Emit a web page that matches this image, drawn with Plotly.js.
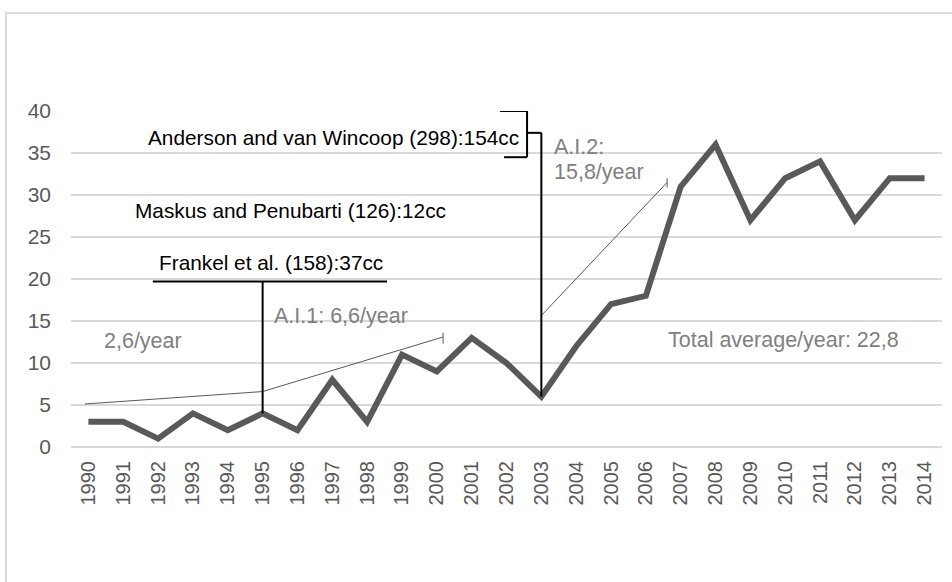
<!DOCTYPE html>
<html>
<head>
<meta charset="utf-8">
<script src="https://cdn.plot.ly/plotly-3.0.1.min.js"></script>
<style>
  html, body { margin: 0; padding: 0; background: #ffffff; overflow: hidden; }
  #frame { position: absolute; left: 5px; top: 12px; width: 1000px; height: 1000px; border: 2px solid #dcdcdc; box-sizing: border-box; }
  #chart { position: absolute; left: 0; top: 0; width: 952px; height: 582px; }
</style>
</head>
<body>
<div id="frame"></div>
<div id="chart"></div>
<script>
const years = ['1990','1991','1992','1993','1994','1995','1996','1997','1998','1999','2000','2001','2002','2003','2004','2005','2006','2007','2008','2009','2010','2011','2012','2013','2014'];
const counts = [3, 3, 1, 4, 2, 4, 2, 8, 3, 11, 9, 13, 10, 6, 12, 17, 18, 31, 36, 27, 32, 34, 27, 32, 32];
const yTicks = [0, 5, 10, 15, 20, 25, 30, 35, 40];

const FONT = 'Liberation Sans, Arial, sans-serif';
const GRAY_TXT = '#808080';
const BLACK = '#000000';
const THIN = '#595959';

const i1995 = years.indexOf('1995');
const i2003 = years.indexOf('2003');

const trace = {
  x: years,
  y: counts,
  type: 'scatter',
  mode: 'lines',
  line: { color: '#595959', width: 6 },
  hoverinfo: 'skip'
};

function seg(x0, y0, x1, y1, color, width) {
  return { type: 'line', xref: 'x', yref: 'y', x0: x0, y0: y0, x1: x1, y1: y1,
           line: { color: color, width: width }, layer: 'above' };
}

const shapes = [
  // trend arrows (drawn first, under the black markers)
  seg(-0.1, 5.12, i1995, 6.6, THIN, 1),
  seg(i1995, 6.6, 10.18, 13.1, THIN, 1),
  seg(10.18, 12.3, 10.18, 13.6, THIN, 1),
  seg(12.99, 15.6, 16.61, 31.5, THIN, 1),
  seg(16.61, 30.9, 16.61, 32.0, THIN, 1),
  // Frankel marker
  seg(1.85, 19.7, 8.57, 19.7, BLACK, 2),
  seg(i1995, counts[i1995], i1995, 19.7, BLACK, 2),
  // Anderson bracket
  seg(11.81, 40, 12.59, 40, BLACK, 2),
  seg(12.59, 40, 12.59, 34.5, BLACK, 2),
  seg(11.93, 34.5, 12.59, 34.5, BLACK, 2),
  seg(12.59, 37.4, i2003, 37.4, BLACK, 2),
  seg(i2003, 37.4, i2003, counts[i2003], BLACK, 2)
];

function txt(text, x, y, color, size, xanchor) {
  return { text: text, x: x, y: y, xref: 'x', yref: 'y', showarrow: false,
           xanchor: xanchor || 'center', yanchor: 'middle',
           font: { family: FONT, size: size, color: color } };
}

const annotations = [
  txt('Anderson and van Wincoop (298):154cc', 7.02, 36.8, BLACK, 20.8),
  txt('Maskus and Penubarti (126):12cc', 5.81, 28.2, BLACK, 20.8),
  txt('Frankel et al. (158):37cc', 5.24, 22.0, BLACK, 20.8),
  txt('2,6/year', 1.57, 12.65, GRAY_TXT, 21.5),
  txt('A.I.1: 6,6/year', 7.25, 15.6, GRAY_TXT, 21.5),
  txt('A.I.2:', 13.31, 35.7, GRAY_TXT, 21.5, 'left'),
  txt('15,8/year', 13.31, 32.75, GRAY_TXT, 21.5, 'left'),
  txt('Total average/year: 22,8', 19.94, 12.75, GRAY_TXT, 21.5)
];

const layout = {
  width: 952,
  height: 582,
  margin: { l: 71, r: 10, t: 111, b: 135 },
  paper_bgcolor: 'rgba(0,0,0,0)',
  plot_bgcolor: 'rgba(0,0,0,0)',
  showlegend: false,
  font: { family: FONT, color: '#595959' },
  xaxis: {
    type: 'category',
    categoryorder: 'array',
    categoryarray: years,
    range: [-0.5, years.length - 0.5],
    tickangle: -90,
    tickfont: { family: FONT, size: 20, color: '#595959' },
    showgrid: false,
    showline: false,
    zeroline: false,
    ticks: '',
    ticklabelstandoff: 9,
    fixedrange: true
  },
  yaxis: {
    range: [0, 40],
    tickvals: yTicks,
    ticktext: yTicks.map(String),
    tickfont: { family: FONT, size: 21, color: '#595959' },
    showgrid: true,
    gridcolor: '#d9d9d9',
    gridwidth: 1.5,
    zeroline: true,
    zerolinecolor: '#d9d9d9',
    zerolinewidth: 1.5,
    showline: false,
    ticks: '',
    ticklabelstandoff: 19,
    fixedrange: true
  },
  shapes: shapes,
  annotations: annotations
};

Plotly.newPlot('chart', [trace], layout, { staticPlot: true, displayModeBar: false });
</script>
</body>
</html>
